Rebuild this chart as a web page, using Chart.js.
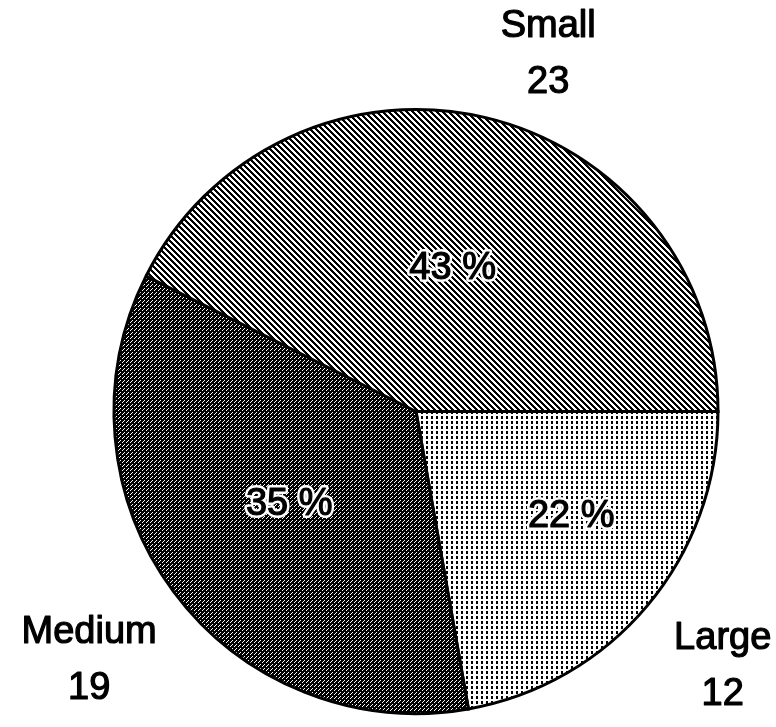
<!DOCTYPE html>
<html lang="en">
<head>
  <meta charset="UTF-8">
  <title>Size pie</title>
  <script src="https://cdn.jsdelivr.net/npm/chart.js"></script>
  <style>
    html, body { margin: 0; padding: 0; background: #fff; }
    #wrap { width: 776px; height: 727px; position: relative; }
  </style>
</head>
<body>
  <div id="wrap"><canvas id="myPieChart"></canvas></div>

  <script>
    // slices, clockwise from 3 o'clock
    const categories = ['Large', 'Medium', 'Small'];
    const counts = [12, 19, 23];

    // black and white fill patterns like the scanned original
    function makePattern(w, h, draw) {
      const c = document.createElement('canvas');
      c.width = w;
      c.height = h;
      const g = c.getContext('2d');
      g.fillStyle = '#fff';
      g.fillRect(0, 0, w, h);
      g.fillStyle = '#000';
      draw(g);
      return c.getContext('2d').createPattern(c, 'repeat');
    }

    const stripes = makePattern(6, 6, g => {
      // "\" diagonal lines
      for (let i = 0; i < 6; i++) {
        g.fillRect(i, i, 1, 1);
        g.fillRect((i + 1) % 6, i, 1, 1);
        g.fillRect((i + 2) % 6, i, 1, 1);
      }
    });
    const dark = makePattern(4, 4, g => {
      g.fillRect(0, 0, 4, 4);
      g.fillStyle = '#fff';
      g.fillRect(0, 0, 1, 1);
      g.fillRect(2, 2, 1, 1);
      g.fillRect(3, 1, 1, 1);
    });
    const dots = makePattern(5, 5, g => {
      g.fillRect(1, 1, 2, 3);
    });

    const fills = [dots, dark, stripes];

    const font = "38px 'Liberation Sans', Arial, sans-serif";

    function heavyText(ctx, text, x, y) {
      ctx.fillStyle = '#000';
      ctx.fillText(text, x, y);
      ctx.lineWidth = 1.2;
      ctx.strokeStyle = '#000';
      ctx.strokeText(text, x, y);
    }

    const labelPlugin = {
      id: 'sliceLabels',
      afterDatasetsDraw(chart, args, opts) {
        const ctx = chart.ctx;
        const arcs = chart.getDatasetMeta(0).data;
        const total = counts.reduce((a, b) => a + b, 0);
        ctx.save();
        ctx.font = font;
        ctx.textAlign = 'center';
        ctx.textBaseline = 'middle';
        ctx.lineJoin = 'round';
        arcs.forEach((arc, i) => {
          const p = arc.getProps(['x', 'y', 'startAngle', 'endAngle', 'outerRadius'], true);
          const mid = (p.startAngle + p.endAngle) / 2;

          // percentage inside, with a white halo
          const inn = opts.inner[i];
          const a1 = mid + inn.da * Math.PI / 180;
          const x1 = p.x + Math.cos(a1) * p.outerRadius * inn.r;
          const y1 = p.y + Math.sin(a1) * p.outerRadius * inn.r;
          const pct = Math.round(counts[i] / total * 100) + ' %';
          ctx.lineWidth = 6;
          ctx.strokeStyle = '#fff';
          ctx.strokeText(pct, x1, y1);
          heavyText(ctx, pct, x1, y1);

          // name and count outside
          const out = opts.outer[i];
          const a2 = mid + out.da * Math.PI / 180;
          const x2 = p.x + Math.cos(a2) * p.outerRadius * out.r;
          const y2 = p.y + Math.sin(a2) * p.outerRadius * out.r;
          heavyText(ctx, categories[i], x2, y2 - 28);
          heavyText(ctx, String(counts[i]), x2, y2 + 28);
        });
        ctx.restore();
      }
    };

    const data = {
      labels: categories,
      datasets: [{
        data: counts,
        backgroundColor: fills,
        borderColor: '#000',
        borderWidth: 3,
        borderJoinStyle: 'miter'
      }]
    };

    const config = {
      type: 'pie',
      data: data,
      options: {
        responsive: true,
        maintainAspectRatio: false,
        animation: false,
        rotation: 90,
        layout: {
          padding: { top: 108, bottom: 12, left: 56, right: 0 }
        },
        plugins: {
          legend: { display: false },
          tooltip: { enabled: false },
          sliceLabels: {
            inner: [{ r: 0.62, da: -6 }, { r: 0.52, da: 0.5 }, { r: 0.49, da: 1 }],
            outer: [{ r: 1.32, da: -0.3 }, { r: 1.36, da: -0.6 }, { r: 1.26, da: 7 }]
          }
        }
      },
      plugins: [labelPlugin]
    };

    new Chart(document.getElementById('myPieChart'), config);
  </script>
</body>
</html>
